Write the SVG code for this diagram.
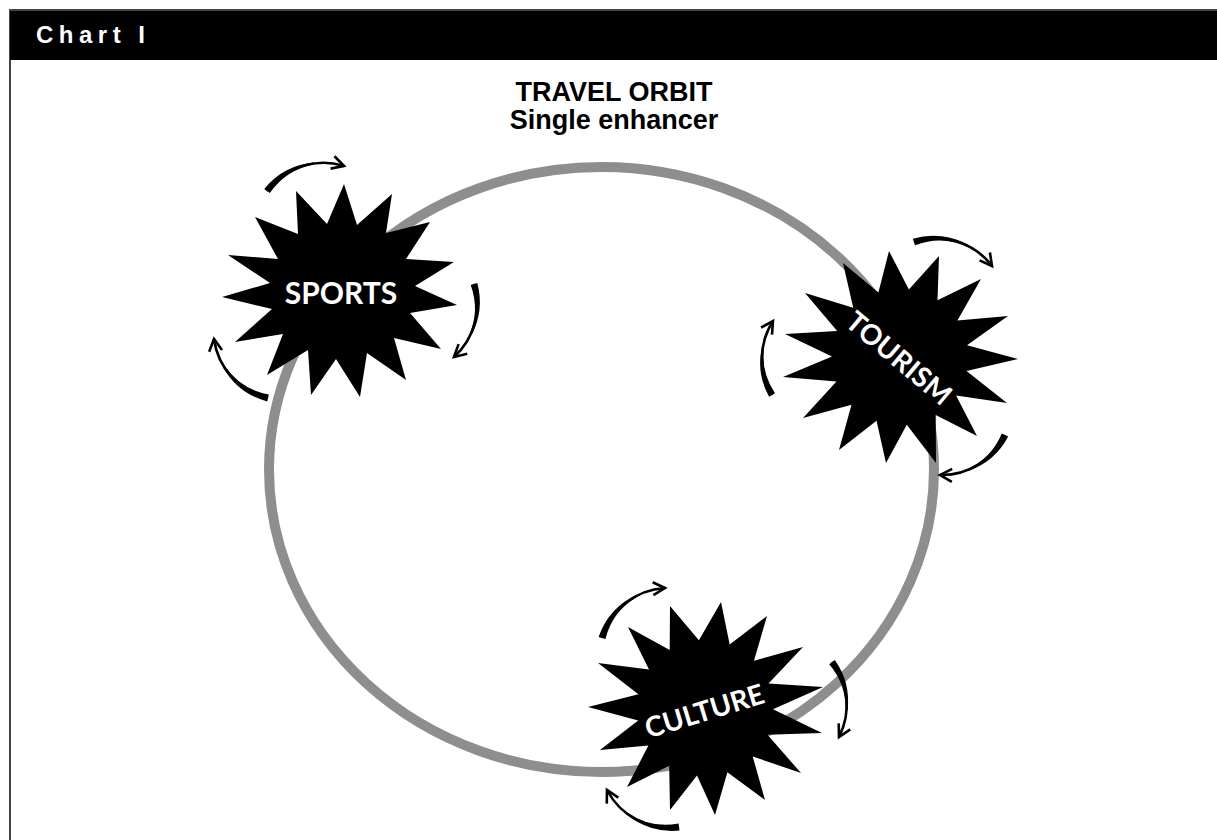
<svg xmlns="http://www.w3.org/2000/svg" width="1217" height="840" viewBox="0 0 1217 840">
<style>
.frame{fill:#ffffff;stroke:#444444;stroke-width:2}
.band{fill:#000000}
.hdr{fill:#ffffff;font-family:"Liberation Sans",Arial,sans-serif;font-weight:bold;font-size:24px;letter-spacing:5.5px}
.ttl{fill:#000000;font-family:"Liberation Sans",Arial,sans-serif;font-weight:bold;font-size:27px;text-anchor:middle}
.ring{fill:none;stroke:#8e8e8e;stroke-width:10}
.star{fill:#000000}
.lbl{fill:#ffffff;font-family:Lato,"Open Sans",sans-serif;font-weight:bold;font-size:30px;text-anchor:middle}
.lbl.sm{font-size:28px}
.body{fill:#000000}
.line{fill:none;stroke:#000000;stroke-width:2.6;marker-end:url(#chev)}
</style>
<defs>
<marker id="chev" markerUnits="userSpaceOnUse" markerWidth="18" markerHeight="18" refX="13" refY="9" orient="auto">
<path d="M1,2.5 L13,9 L1,15.5" fill="none" stroke="#000000" stroke-width="2.6" stroke-linejoin="miter"/>
</marker>
</defs>
<rect x="0" y="0" width="1217" height="840" fill="#ffffff"/>
<g id="header">
<rect class="frame" x="10" y="10" width="1230" height="850"/>
<rect class="band" x="10" y="11" width="1207" height="49"/>
<text class="hdr" x="36" y="43">Chart I</text>
</g>
<g id="title">
<text class="ttl" x="614" y="101">TRAVEL ORBIT</text>
<text class="ttl" x="614" y="129">Single enhancer</text>
</g>
<g id="orbit">
<ellipse class="ring" cx="601.5" cy="469.5" rx="332.5" ry="302.5"/>
</g>
<g id="node-sports">
<polygon class="star" points="344,184 357,225 392,194 386,233 430,222 406,259 454,262 415,286 457,305 410,313 441,349 394,338 406,380 367,353 360,397 336,359 311,395 308,350 267,375 283,334 235,342 272,309 222,297 270,283 228,255 278,259 255,217 298,234 296,191 327,224"/>
<text class="lbl" x="341" y="303.5">SPORTS</text>
</g>
<g id="node-tourism">
<polygon class="star" points="889,251 908.9,289.6 939,256 937.5,300.3 981,279 957.4,320.5 1008,316 967,345.2 1018,359 966.5,371.1 1007,403 956.1,395.4 977,436 935.7,414.9 936,463 906.8,424.7 886,463 876.5,420.8 839,450 851.5,404.7 803,418 836.5,381.4 783,377 832,356.4 785,334 837.2,331 805,293 853.2,307.7 843,263 878.4,292.5"/>
<text class="lbl sm" transform="translate(899,358) rotate(40)" x="0" y="10">TOURISM</text>
</g>
<g id="node-culture">
<polygon class="star" points="721,602 729.7,644.6 767,616 754,660.8 803,647 768.5,683.6 823,687 773,709.2 822,733 767.5,734.7 801,773 752.7,756.5 765,800 727.4,772.2 715,815 697,775.5 670,810 669.2,765.8 627,787 648.4,745.6 600,750 638.2,720.6 588,707 638.4,694.3 598,663 649,669.4 628,627 669.7,649.9 670,606 698.9,640.3"/>
<text class="lbl sm" transform="translate(704.5,711) rotate(-17)" x="0" y="10">CULTURE</text>
</g>
<g id="connectors">
<path class="body" d="M264.2,188.9 A72,72 0 0 1 314.0,162.4 L314.3,164.4 A68,68 0 0 0 269.8,193.1 Z"/>
<path class="line" d="M267,191 A70,70 0 0 1 344,166"/>
<path class="body" d="M477.3,283.0 A72,72 0 0 1 471.5,335.1 L469.7,334.3 A68,68 0 0 0 470.7,285.1 Z"/>
<path class="line" d="M474,284 A70,70 0 0 1 454,357"/>
<path class="body" d="M267.2,401.4 A72,72 0 0 1 223.2,367.4 L224.9,366.3 A68,68 0 0 0 268.8,394.6 Z"/>
<path class="line" d="M268,398 A70,70 0 0 1 214,339"/>
<path class="body" d="M912.9,238.7 A72,72 0 0 1 969.4,245.6 L968.5,247.3 A68,68 0 0 0 915.1,245.3 Z"/>
<path class="line" d="M914,242 A70,70 0 0 1 992,266"/>
<path class="body" d="M769.0,396.8 A72,72 0 0 1 762.1,346.1 L764.0,346.4 A68,68 0 0 0 775.0,393.2 Z"/>
<path class="line" d="M772,395 A70,70 0 0 1 773,321"/>
<path class="body" d="M1008.2,436.5 A72,72 0 0 1 968.0,471.0 L967.3,469.1 A68,68 0 0 0 1001.8,433.5 Z"/>
<path class="line" d="M1005,435 A70,70 0 0 1 940,475"/>
<path class="body" d="M598.6,637.0 A72,72 0 0 1 635.9,595.2 L636.8,596.9 A68,68 0 0 0 605.4,639.0 Z"/>
<path class="line" d="M602,638 A70,70 0 0 1 665,588"/>
<path class="body" d="M834.8,659.9 A72,72 0 0 1 847.5,710.5 L845.5,710.3 A68,68 0 0 0 829.2,664.2 Z"/>
<path class="line" d="M832,662 A70,70 0 0 1 839,737"/>
<path class="body" d="M679.5,830.5 A72,72 0 0 1 625.6,813.8 L626.8,812.2 A68,68 0 0 0 678.5,823.5 Z"/>
<path class="line" d="M679,827 A70,70 0 0 1 607,790"/>
</g>
</svg>
